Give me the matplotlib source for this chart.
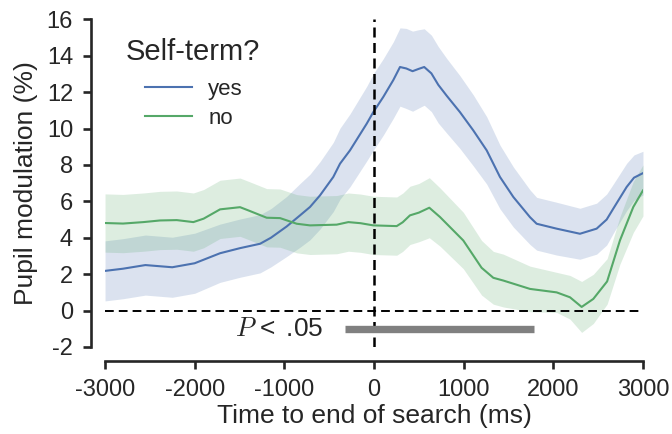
import numpy as np
import matplotlib
matplotlib.use("Agg")
import matplotlib.pyplot as plt

plt.rcParams['font.family'] = ['Liberation Sans', 'DejaVu Sans']
plt.rcParams['mathtext.fontset'] = 'cm'
plt.rcParams['axes.unicode_minus'] = False

# time points (ms) and values
t_yes = [-3000, -2800, -2550, -2250, -2000, -1717, -1494, -1271, -1150, -974,
         -825, -714, -602, -454, -379, -268, -81, -8, 104, 215,
         290, 360, 430, 500, 560, 640, 717, 811, 959, 1107,
         1257, 1405, 1554, 1740, 1814, 2037, 2297, 2483, 2595, 2669,
         2818, 2900, 3000]
mean_yes = [2.18, 2.3, 2.5, 2.38, 2.6, 3.15, 3.43, 3.67, 4.0, 4.62,
            5.23, 5.69, 6.33, 7.34, 8.07, 8.8, 10.27, 10.9, 11.74, 12.66,
            13.38, 13.3, 13.15, 13.28, 13.38, 13.03, 12.4, 11.8, 10.9, 9.9,
            8.8, 7.34, 6.24, 5.13, 4.77, 4.5, 4.22, 4.5, 5.0, 5.6,
            6.79, 7.3, 7.55]
sem_yes = [1.65, 1.65, 1.65, 1.65, 1.65, 1.6, 1.6, 1.6, 1.6, 1.65,
           1.75, 1.8, 1.85, 1.9, 1.95, 2.0, 2.05, 2.1, 2.1, 2.1,
           2.15, 2.2, 2.2, 2.15, 2.1, 2.1, 2.1, 2.05, 2.0, 1.95,
           1.85, 1.75, 1.65, 1.5, 1.45, 1.45, 1.4, 1.4, 1.4, 1.35,
           1.3, 1.25, 1.2]

t_no = [-3000, -2800, -2573, -2387, -2200, -2015, -1900, -1717, -1494, -1400,
        -1197, -1048, -862, -714, -416, -286, -150, -8, 253, 320,
        401, 500, 617, 736, 996, 1200, 1331, 1442, 1740, 2037,
        2186, 2316, 2446, 2600, 2743, 2892, 3000]
mean_no = [4.81, 4.78, 4.86, 4.95, 4.97, 4.86, 5.05, 5.56, 5.68, 5.5,
           5.1, 5.08, 4.77, 4.68, 4.72, 4.86, 4.8, 4.68, 4.64, 4.85,
           5.23, 5.38, 5.65, 5.14, 3.85, 2.35, 1.8, 1.65, 1.19, 1.0,
           0.73, 0.2, 0.64, 1.6, 3.85, 5.69, 6.6]
sem_no = [1.6, 1.6, 1.6, 1.6, 1.6, 1.6, 1.6, 1.6, 1.6, 1.6,
          1.6, 1.6, 1.6, 1.6, 1.6, 1.6, 1.6, 1.6, 1.6, 1.6,
          1.6, 1.6, 1.65, 1.6, 1.55, 1.5, 1.45, 1.45, 1.25, 1.1,
          1.2, 1.4, 1.35, 1.25, 1.3, 1.4, 1.4]

sig_window = [-320, 1780]
sig_level = -1.0

blue = '#4C72B0'
green = '#55A868'
dark = '#262626'

fig = plt.figure(figsize=(6.72, 4.34), dpi=100)
ax = fig.add_axes([0.1563, 0.2005, 0.8005, 0.755])

for t, m, s, c, lab in [(t_yes, mean_yes, sem_yes, blue, 'yes'),
                        (t_no, mean_no, sem_no, green, 'no')]:
    t = np.array(t); m = np.array(m); s = np.array(s)
    ax.fill_between(t, m - s, m + s, color=c, alpha=0.2, lw=0)
    ax.plot(t, m, color=c, lw=1.5, label=lab)

ax.axhline(0, color='k', ls=(0, (4.5, 2.6)), lw=1.4)
ax.axvline(0, color='k', ls=(0, (4.0, 2.2)), lw=1.8)
ax.plot(sig_window, [sig_level, sig_level], color='gray', lw=5.3,
        solid_capstyle='butt')
ax.text(-560, sig_level, r'$P$ < $\,$.05', ha='right', va='center',
        fontsize=19, color=dark)

ax.set_xlim(-3000, 3000)
ax.set_ylim(-2, 16)
ax.set_xticks(range(-3000, 3001, 1000))
ax.set_yticks(range(-2, 17, 2))
for side in ['top', 'right']:
    ax.spines[side].set_visible(False)
for side in ['left', 'bottom']:
    ax.spines[side].set_position(('outward', 10))
    ax.spines[side].set_linewidth(1.9)
    ax.spines[side].set_color(dark)
ax.tick_params(width=1.9, length=6, pad=7, labelsize=17, colors=dark)

ax.set_xlabel('Time to end of search (ms)', fontsize=19, color=dark, labelpad=2)
ax.set_ylabel('Pupil modulation (%)', fontsize=19, color=dark, labelpad=6)

# legend title drawn as its own text so its gap to the entries can match
ax.text(0.039, 0.900, 'Self-term?', transform=ax.transAxes, ha='left',
        va='center', fontsize=21, color=dark)
leg = ax.legend(loc='upper left', bbox_to_anchor=(0.0743, 0.818),
                borderpad=0, borderaxespad=0, frameon=False, fontsize=16,
                handlelength=2.1, handletextpad=0.75, labelspacing=0.36)
for txt in leg.get_texts():
    txt.set_color(dark)

fig.savefig('out.png', dpi=100)
